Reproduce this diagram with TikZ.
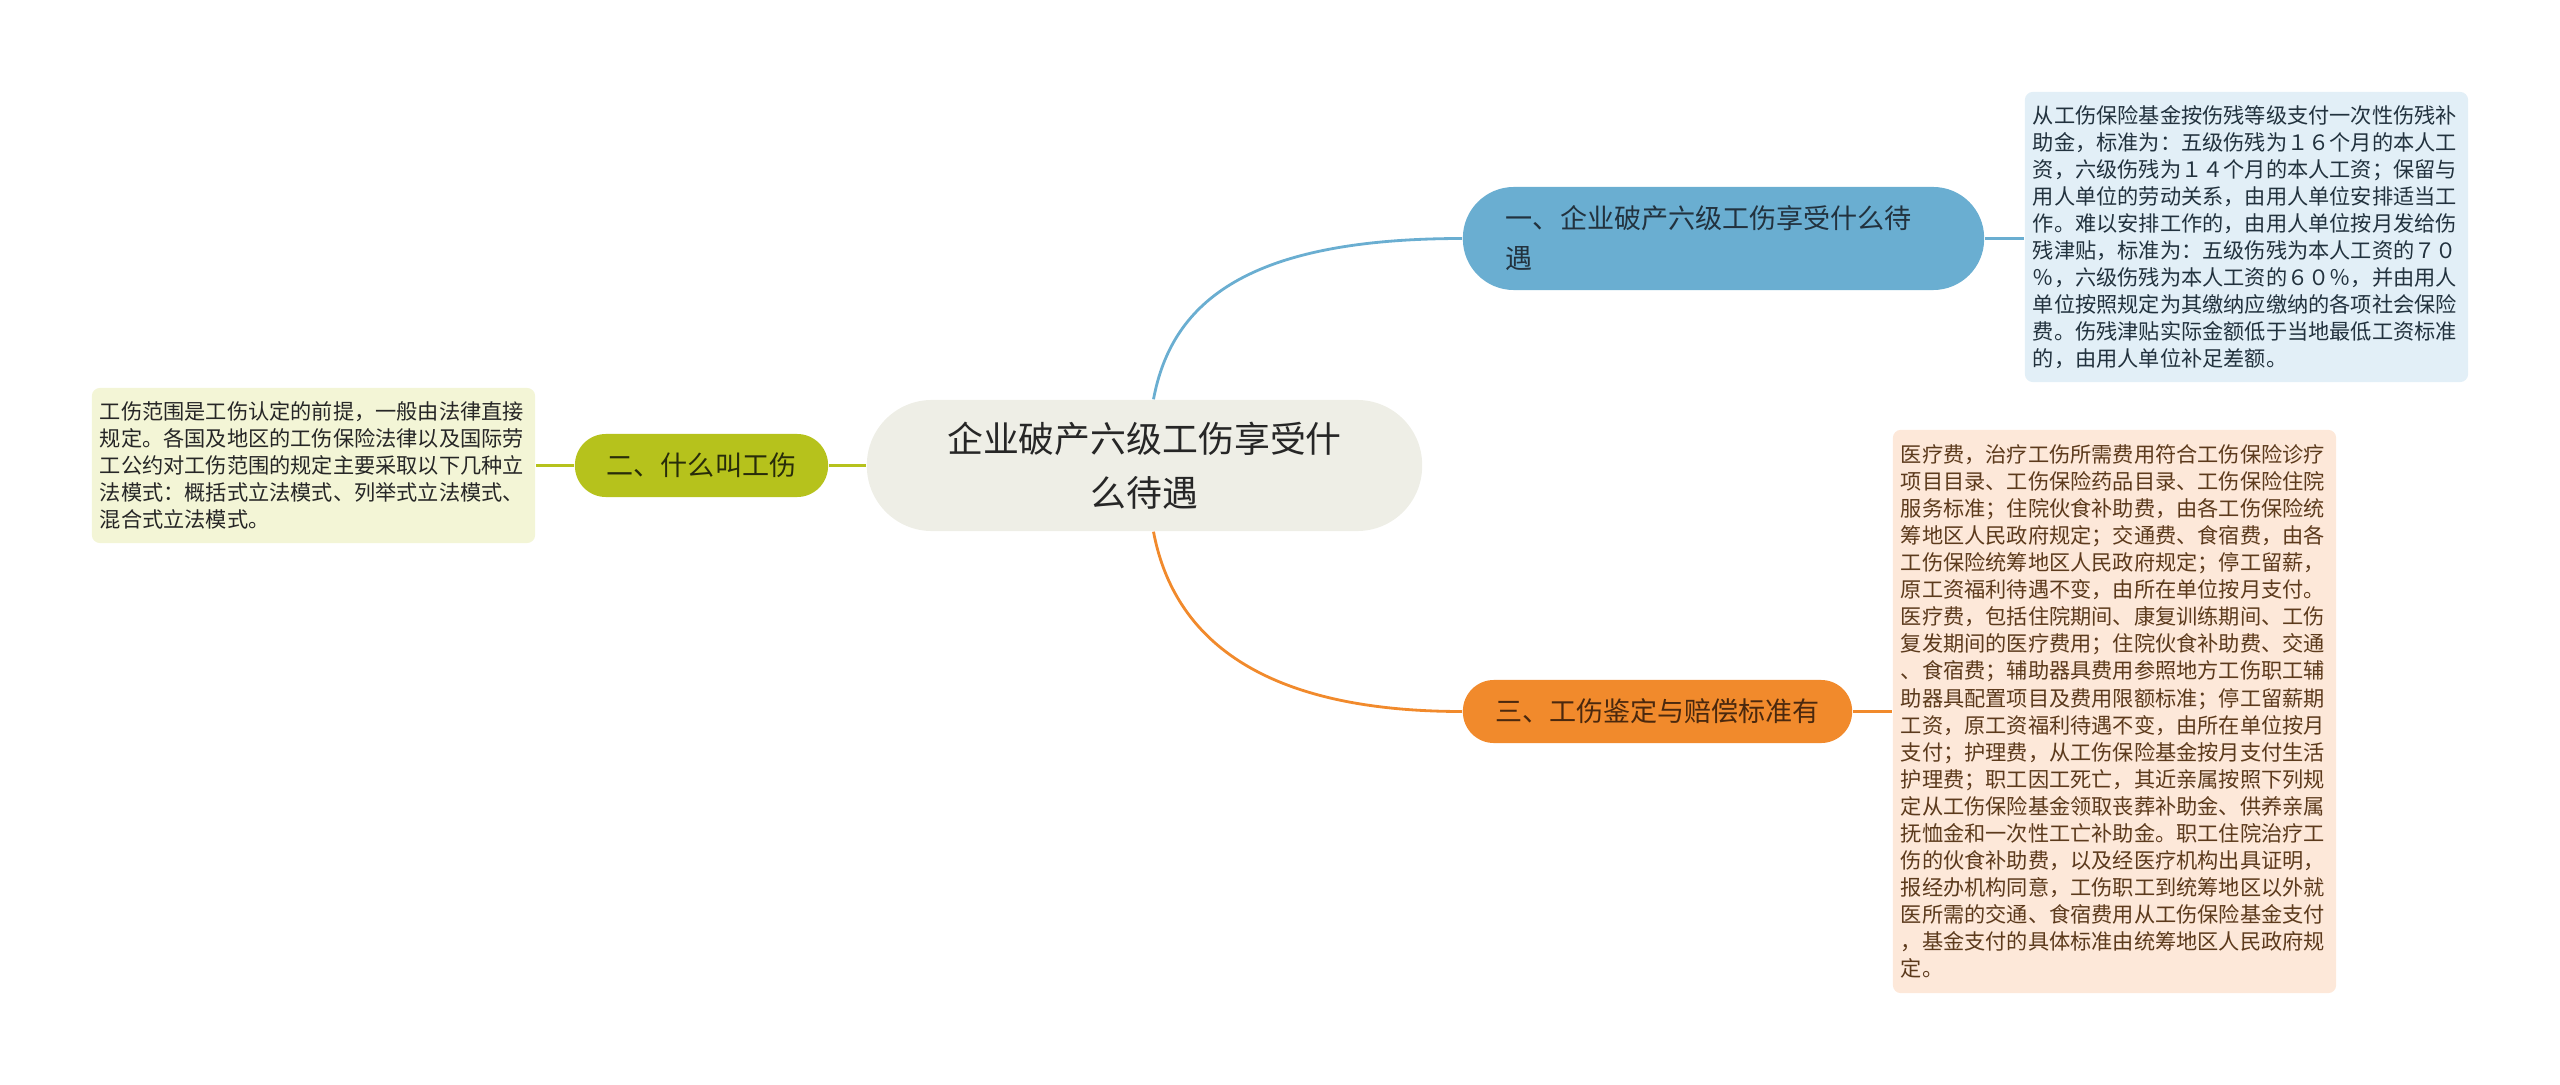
\documentclass[tikz,border=0pt]{standalone}
\usepackage{fontspec}
\setmainfont{Noto Sans CJK SC}
\usetikzlibrary{positioning}
\definecolor{mmRoot}{RGB}{238,238,230}
\definecolor{mmBlue}{RGB}{106,174,209}
\definecolor{mmGreen}{RGB}{182,194,28}
\definecolor{mmOrange}{RGB}{241,138,44}
\definecolor{mmBlueLeaf}{RGB}{226,239,247}
\definecolor{mmGreenLeaf}{RGB}{243,245,214}
\definecolor{mmOrangeLeaf}{RGB}{253,232,217}
\definecolor{mmBlueText}{RGB}{34,50,62}
\definecolor{mmGreenText}{RGB}{40,44,10}
\definecolor{mmOrangeText}{RGB}{74,40,14}
\definecolor{mmBrownText}{RGB}{92,58,28}
\tikzset{
    rootbox/.style={fill=mmRoot,rounded corners=0.65cm,minimum width=5.55cm,minimum height=1.31cm,
        align=center,text=black!85,font=\fontsize{10.2pt}{15.3pt}\selectfont},
    topicbox/.style={rounded corners=#1,inner sep=0pt,font=\fontsize{7.7pt}{11.4pt}\selectfont},
    leafbox/.style={rounded corners=0.08cm,inner sep=0pt,minimum width=4.43cm,align=left,
        text width=4.27cm,font=\fontsize{6.03pt}{7.7pt}\selectfont},
    link/.style={line width=0.8pt}
}

\begin{document}
\begin{tikzpicture}[x=0.01cm,y=-0.01cm]
    \useasboundingbox (0,0) rectangle (2560,1085);

    \node[rootbox] (root) at (1144.5,465.5) {企业破产六级工伤享受什\\么待遇};

    \node[topicbox=0.51cm,fill=mmBlue,text=mmBlueText,minimum width=5.21cm,minimum height=1.03cm,
        align=left,text width=4.35cm] (topic1) at (1723.5,238.5) {一、企业破产六级工伤享受什么待\\遇};
    \node[topicbox=0.31cm,fill=mmGreen,text=mmGreenText,minimum width=2.53cm,minimum height=0.63cm]
        (topic2) at (701.5,465.5) {二、什么叫工伤};
    \node[topicbox=0.31cm,fill=mmOrange,text=mmOrangeText,minimum width=3.89cm,minimum height=0.63cm]
        (topic3) at (1657.5,711.5) {三、工伤鉴定与赔偿标准有};

    \node[leafbox,fill=mmBlueLeaf,text=mmBlueText,minimum height=2.90cm] (leaf1) at (2246.5,237) {%
        从工伤保险基金按伤残等级支付一次性伤残补\\
        助金，标准为：五级伤残为１６个月的本人工\\
        资，六级伤残为１４个月的本人工资；保留与\\
        用人单位的劳动关系，由用人单位安排适当工\\
        作。难以安排工作的，由用人单位按月发给伤\\
        残津贴，标准为：五级伤残为本人工资的７０\\
        ％，六级伤残为本人工资的６０％，并由用人\\
        单位按照规定为其缴纳应缴纳的各项社会保险\\
        费。伤残津贴实际金额低于当地最低工资标准\\
        的，由用人单位补足差额。};

    \node[leafbox,fill=mmGreenLeaf,text=black!85,minimum height=1.55cm] (leaf2) at (313.5,465.5) {%
        工伤范围是工伤认定的前提，一般由法律直接\\
        规定。各国及地区的工伤保险法律以及国际劳\\
        工公约对工伤范围的规定主要采取以下几种立\\
        法模式：概括式立法模式、列举式立法模式、\\
        混合式立法模式。};

    \node[leafbox,fill=mmOrangeLeaf,text=mmBrownText,minimum height=5.63cm] (leaf3) at (2114.5,711.5) {%
        医疗费，治疗工伤所需费用符合工伤保险诊疗\\
        项目目录、工伤保险药品目录、工伤保险住院\\
        服务标准；住院伙食补助费，由各工伤保险统\\
        筹地区人民政府规定；交通费、食宿费，由各\\
        工伤保险统筹地区人民政府规定；停工留薪，\\
        原工资福利待遇不变，由所在单位按月支付。\\
        医疗费，包括住院期间、康复训练期间、工伤\\
        复发期间的医疗费用；住院伙食补助费、交通\\
        、食宿费；辅助器具费用参照地方工伤职工辅\\
        助器具配置项目及费用限额标准；停工留薪期\\
        工资，原工资福利待遇不变，由所在单位按月\\
        支付；护理费，从工伤保险基金按月支付生活\\
        护理费；职工因工死亡，其近亲属按照下列规\\
        定从工伤保险基金领取丧葬补助金、供养亲属\\
        抚恤金和一次性工亡补助金。职工住院治疗工\\
        伤的伙食补助费，以及经医疗机构出具证明，\\
        报经办机构同意，工伤职工到统筹地区以外就\\
        医所需的交通、食宿费用从工伤保险基金支付\\
        ，基金支付的具体标准由统筹地区人民政府规\\
        定。};

    % branches
    \draw[link,mmBlue] ([xshift=0.09cm]root.north) .. controls (1172,300) and (1250,238.5) .. (topic1.west);
    \draw[link,mmGreen] (root.west) -- (topic2.east);
    \draw[link,mmOrange] ([xshift=0.09cm]root.south) .. controls (1172,630) and (1250,711.5) .. (topic3.west);

    \draw[link,mmBlue] (topic1.east) -- (topic1.east -| leaf1.west);
    \draw[link,mmGreen] (topic2.west) -- (leaf2.east);
    \draw[link,mmOrange] (topic3.east) -- (leaf3.west);
\end{tikzpicture}
\end{document}
